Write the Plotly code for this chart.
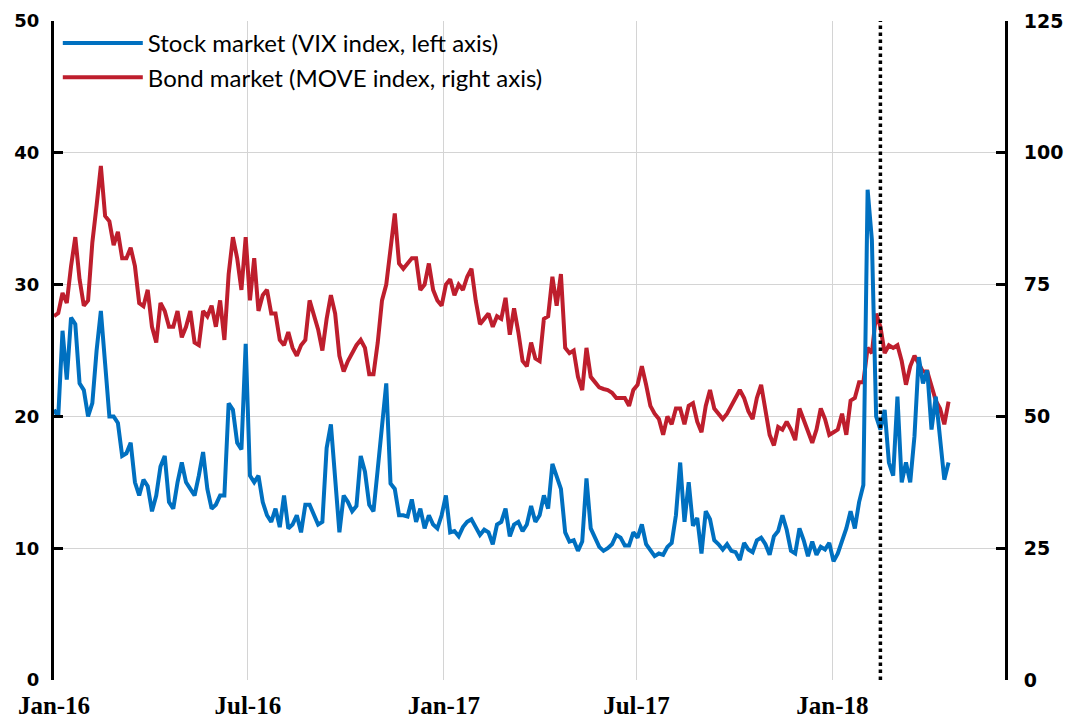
import pandas as pd
import plotly.graph_objects as go

dates = pd.date_range("2016-01-01", periods=211, freq="4D")

vix = [
    20.5, 20, 26.5, 22.8, 27.5, 27, 22.5, 22, 20, 21,
    25, 28, 24, 20, 20, 19.5, 17, 17.2, 18, 15,
    14, 15.2, 14.7, 12.8, 14, 16.2, 17, 13.5, 13, 15,
    16.5, 15, 14.5, 14, 15.5, 17.3, 14.5, 13, 13.3, 14,
    14, 21, 20.5, 18, 17.5, 25.5, 15.5, 15, 15.5, 13.5,
    12.5, 12, 13, 11.6, 14, 11.5, 11.8, 12.5, 11.2, 13.3,
    13.3, 12.5, 11.8, 12, 17.6, 19.4, 15.5, 11.2, 14, 13.5,
    12.8, 13.2, 17, 15.8, 13.3, 12.8, 16, 19.5, 22.5, 14.9,
    14.5, 12.5, 12.5, 12.4, 13.7, 12, 13, 11.5, 12.5, 11.8,
    11.5, 12.5, 14, 11.2, 11.3, 10.9, 11.6, 12, 12.2, 11.6,
    11, 11.4, 11.2, 10.3, 11.8, 12, 13, 10.9, 11.8, 12,
    11.3, 11.8, 13.2, 12, 12.5, 14, 13, 16.4, 15.5, 14.5,
    11.2, 10.5, 10.6, 9.8, 10.5, 15.3, 11.5, 10.8, 10.1, 9.8,
    10, 10.3, 11, 10.8, 10.2, 10.2, 11.2, 10.8, 11.8, 10.3,
    9.8, 9.4, 9.6, 9.5, 10.1, 10.4, 12.5, 16.5, 12, 15,
    11.7, 12.3, 9.6, 12.8, 12.2, 10.6, 10.3, 9.9, 10.3, 9.8,
    9.7, 9.1, 10.4, 9.9, 9.7, 10.6, 10.8, 10.3, 9.5, 10.9,
    11.3, 12.5, 11.4, 9.8, 9.6, 11.5, 10.6, 9.4, 10.5, 9.5,
    10.1, 9.9, 10.4, 9, 9.6, 10.5, 11.5, 12.8, 11.5, 13.5,
    14.8, 37.2, 33.4, 20, 19, 20.5, 16.5, 15.5, 21.5, 15,
    16.5, 15, 18.5, 24.5, 22.5, 23.5, 19, 21.5, 18.5, 15.2,
    16.5,
]

move = [
    69, 69.6, 73.4, 71.5, 78.5, 84, 76, 71, 72, 83,
    90, 97.5, 88, 87, 82.5, 85, 80, 80, 82, 78.5,
    71.5, 70.9, 74, 67, 64, 71.5, 70, 67, 67, 70,
    65, 67, 70, 64, 63.5, 70, 69, 71, 67, 72,
    64.5, 77, 84, 80, 74, 84, 72, 80, 70, 73,
    74, 69.5, 69.5, 64.5, 63.5, 66, 63, 61.5, 63.5, 64.5,
    72, 69.5, 66.5, 62.5, 68.5, 73, 69.5, 61.5, 58.5, 60.5,
    62, 63.5, 64.5, 63, 58, 58, 64, 72, 75, 82,
    88.5, 79, 78, 79, 80, 80, 74, 75, 79, 74,
    72, 71, 75, 76, 73, 75, 74, 76.5, 78, 72,
    67.5, 68.5, 69.5, 67, 69, 68.5, 72.5, 65.5, 70.5, 66,
    60.5, 59.5, 64, 61, 60.5, 68.5, 69, 76.5, 71, 77,
    63, 62, 62.5, 57.5, 55, 63, 57.5, 56.5, 55.5, 55.2,
    55, 54.5, 53.5, 53.5, 53.5, 52, 55, 56, 59.5, 56,
    52, 50.5, 49.5, 46.5, 50, 48.5, 51.5, 51.5, 48.5, 52,
    52.5, 49, 47, 52, 55, 51.5, 50.5, 49.5, 50.5, 52,
    53.5, 55, 53.5, 51, 49.5, 53.5, 56, 51.5, 46.5, 44.5,
    48, 47.5, 49, 47.5, 45.5, 51.5, 49.5, 47.5, 45, 47.5,
    51.5, 49.5, 46.5, 47, 47.5, 50.5, 46.5, 53, 53.5, 56.5,
    56.5, 63, 62, 69.5, 67, 62, 63.5, 63, 63.5, 60.5,
    56, 59.5, 61.5, 60, 58.5, 58.5, 56, 53, 51.5, 48.5,
    52.8,
]

vix_name = "Stock market (VIX index, left axis)"
move_name = "Bond market (MOVE index, right axis)"
event_date = "2018-02-15"
x_range = ["2016-01-01", "2018-06-12"]
vix_range = [0, 50]
move_range = [0, 125]

BLUE = "#0070C0"
RED = "#BE1E2D"
GRID = "#d4d4d4"

fig = go.Figure()
fig.add_trace(go.Scatter(x=dates, y=vix, name=vix_name, yaxis="y2", mode="lines",
                         line=dict(color=BLUE, width=4)))
fig.add_trace(go.Scatter(x=dates, y=move, name=move_name, yaxis="y", mode="lines",
                         line=dict(color=RED, width=4)))

fig.add_shape(type="line", xref="x", yref="paper", x0=event_date, x1=event_date,
              y0=0, y1=1, line=dict(color="black", width=3.5, dash="dot"))

tick_y_font = dict(family="DejaVu Sans", size=18, color="black", weight="bold")

# The page body adds an 8px offset, so the figure is sized to fit the window.
fig.update_layout(
    width=1074, height=717,
    margin=dict(l=46, r=77, t=13, b=45, autoexpand=False),
    paper_bgcolor="white", plot_bgcolor="white",
    showlegend=True,
    legend=dict(x=0.004, y=1.0, xanchor="left", yanchor="top",
                bgcolor="rgba(0,0,0,0)", itemwidth=80,
                font=dict(family="Lato", size=24, color="black"),
                tracegroupgap=0),
    xaxis=dict(type="date", range=x_range, dtick="M6", tick0="2016-01-01",
               tickformat="%b-%y", showgrid=True, gridcolor=GRID, gridwidth=1,
               showline=False, zeroline=False, ticks="", automargin=False,
               ticklabelstandoff=8,
               tickfont=dict(family="Liberation Sans Narrow", size=25, color="black",
                             weight="bold")),
    yaxis=dict(range=move_range, dtick=25, side="right", showgrid=True,
               gridcolor=GRID, gridwidth=1, zeroline=False, automargin=False,
               showline=True, linecolor="black", linewidth=3,
               ticks="inside", ticklen=9, tickwidth=3, tickcolor="black",
               ticklabelstandoff=12, tickfont=dict(tick_y_font, size=19)),
    yaxis2=dict(range=vix_range, dtick=10, side="left", overlaying="y",
                showgrid=False, zeroline=False, automargin=False,
                showline=True, linecolor="black", linewidth=3,
                ticks="inside", ticklen=9, tickwidth=3, tickcolor="black",
                ticklabelstandoff=8, tickfont=tick_y_font),
)

fig.write_html("out.html")
